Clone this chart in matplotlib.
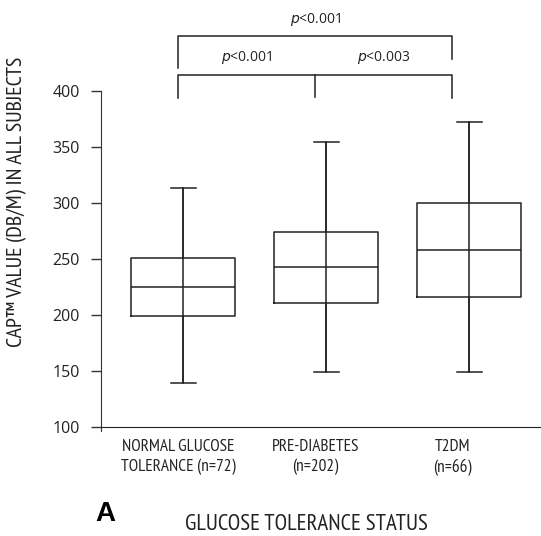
import matplotlib
matplotlib.use("Agg")
import matplotlib.pyplot as plt

# box statistics
groups = ["NORMAL GLUCOSE\nTOLERANCE (n=72)", "PRE-DIABETES\n(n=202)", "T2DM\n(n=66)"]
whisker_low = [139, 149, 149]
q1 = [199, 211, 216]
median = [225, 243, 258]
q3 = [251, 274, 300]
whisker_high = [313, 354, 372]

yticks = [100, 150, 200, 250, 300, 350, 400]
pvals = ["<0.001", "<0.003", "<0.001"]

plt.rcParams['font.family'] = ['Open Sans', 'DejaVu Sans']
cond = ['PT Sans Narrow', 'DejaVu Sans']
ink = "#222222"

fig = plt.figure(figsize=(5.41, 5.36), dpi=100)
ax = fig.add_axes([0.1867, 0.2034, 0.8133, 0.6269])

pos = [1, 2, 3]
stats = []
for i in range(len(groups)):
    stats.append(dict(whislo=whisker_low[i], q1=q1[i], med=median[i], q3=q3[i],
                      whishi=whisker_high[i], fliers=[]))

lp = dict(color=ink, linewidth=1.1)
ax.bxp(stats, positions=pos, widths=0.727, showfliers=False,
       boxprops=lp, medianprops=lp, whiskerprops=lp, capprops=lp,
       capwidths=0.175)
# whisker line runs straight through the box
ax.vlines(pos, whisker_low, whisker_high, color=ink, lw=1.1)

ax.set_xlim(0.427, 3.5)
ax.set_ylim(100, 400)
ax.set_yticks(yticks)
ax.set_yticklabels([str(v) for v in yticks], fontsize=11.5, color=ink)
ax.tick_params(axis='y', length=7.2, width=1, color="#333333", pad=8)

# category labels sit a little left of the boxes in the original
label_x = [p - off for p, off in zip(pos, [0.035, 0.077, 0.12])]
ax.set_xticks(label_x)
ax.set_xticklabels(groups, fontsize=12.4, color=ink, family=cond, linespacing=1.3)
ax.tick_params(axis='x', length=0, pad=9)
ax.spines['top'].set_visible(False)
ax.spines['right'].set_visible(False)
ax.spines['left'].set_color("#333333")
ax.spines['bottom'].set_color(ink)
ax.spines['left'].set_bounds(96, 400)

ax.set_ylabel("CAP\u2122 VALUE (DB/M) IN ALL SUBJECTS", fontsize=15.8, color=ink, family=cond)
ax.yaxis.set_label_coords(-0.168, 0.67)

# significance brackets, anchored on the label positions
a, b, c = label_x
ax.plot([a, a, c, c], [394, 414, 414, 394], color=ink, lw=1.1, clip_on=False)
ax.plot([b, b], [414, 395], color=ink, lw=1.1, clip_on=False)
ax.plot([a, a, c, c], [420.5, 449, 449, 428.5], color=ink, lw=1.1, clip_on=False)

def ptext(x, y, s):
    ax.text(x, y, "$\\mathit{p}$" + s, ha="center", va="center", fontsize=10,
            color=ink, clip_on=False)

ptext((a + b) / 2, 430, pvals[0])
ptext((b + c) / 2, 430, pvals[1])
ptext(b, 464, pvals[2])

fig.text(0.194, 0.041, "A", fontsize=20, fontweight="bold", family="Liberation Sans",
         ha="center", va="center")
fig.text(0.566, 0.021, "GLUCOSE TOLERANCE STATUS", fontsize=16.5, ha="center", va="center",
         color=ink, family=cond)

fig.savefig("out.png", dpi=100)
